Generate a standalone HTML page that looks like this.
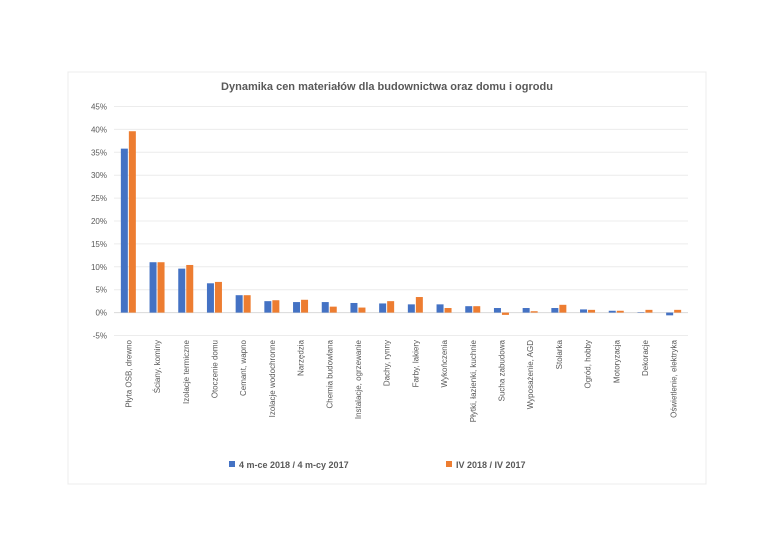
<!DOCTYPE html>
<html><head><meta charset="utf-8"><style>
body{margin:0;background:#fff;font-family:"Liberation Sans",sans-serif;}
svg text{font-family:"Liberation Sans",sans-serif;fill:#595959;}
</style></head><body>
<svg width="768" height="555">
<rect x="68" y="72" width="638" height="412" fill="#fff" stroke="#ececec"/>
<text x="387" y="90" text-anchor="middle" font-size="11" font-weight="bold">Dynamika cen materiałów dla budownictwa oraz domu i ogrodu</text>
<g id="grid"></g><g id="bars"></g><g id="labels"></g>
<g>
<rect x="229" y="461" width="6" height="6" fill="#4472c4"/>
<text x="239" y="468" font-size="9" font-weight="bold">4 m-ce 2018 / 4 m-cy 2017</text>
<rect x="446" y="461" width="6" height="6" fill="#ed7d31"/>
<text x="456" y="468" font-size="9" font-weight="bold">IV 2018 / IV 2017</text>
</g>
</svg>
<script>
const categories=["Płyta OSB, drewno","Ściany, kominy","Izolacje termiczne","Otoczenie domu","Cemant, wapno","Izolacje wodochronne","Narzędzia","Chemia budowlana","Instalacje, ogrzewanie","Dachy, rynny","Farby, lakiery","Wykończenia","Płytki, łazienki, kuchnie","Sucha zabudowa","Wyposażenie, AGD","Stolarka","Ogród, hobby","Motoryzacja","Dekoracje","Oświetlenie, elektryka"];
const series1=[35.8,11,9.6,6.4,3.8,2.5,2.3,2.3,2.1,2.0,1.8,1.8,1.4,1.0,1.0,1.0,0.7,0.4,0.1,-0.6];
const series2=[39.6,11,10.4,6.7,3.8,2.7,2.8,1.3,1.1,2.5,3.4,1.0,1.4,-0.5,0.3,1.7,0.6,0.4,0.6,0.6];
const ticks=[-5,0,5,10,15,20,25,30,35,40,45];
const NS="http://www.w3.org/2000/svg";
const x0=114,x1=688,yZero=312.6,pxPer=4.58;
const y=v=>yZero-v*pxPer;
const band=(x1-x0)/categories.length;
function mk(tag,attrs,parent){const e=document.createElementNS(NS,tag);for(const k in attrs)e.setAttribute(k,attrs[k]);document.getElementById(parent).appendChild(e);return e;}
ticks.forEach(t=>{
  const l=mk('line',{x1:x0,x2:x1,y1:y(t),y2:y(t),stroke:t===0?'#d9d9d9':'#ececec','stroke-width':1},'grid');
  
  
  const tx=mk('text',{x:107,y:y(t)+3,'text-anchor':'end','font-size':8},'grid');
  tx.textContent=t+'%';
  
  
});
categories.forEach((c,i)=>{
  const cx=x0+band*(i+0.5);
  [[series1,'#4472c4',-7.5],[series2,'#ed7d31',0.5]].forEach(([s,col,off],j)=>{
    const v=s[i];
    const r=mk('rect',{x:cx+off,width:7,y:Math.min(y(v),yZero),height:Math.abs(y(v)-yZero),fill:col},'bars');
    
    
  });
  const t=mk('text',{transform:`translate(${cx+3},340) rotate(-90)`,'text-anchor':'end','font-size':8},'labels');
  t.textContent=c;
  
  
});
</script>
</body></html>
